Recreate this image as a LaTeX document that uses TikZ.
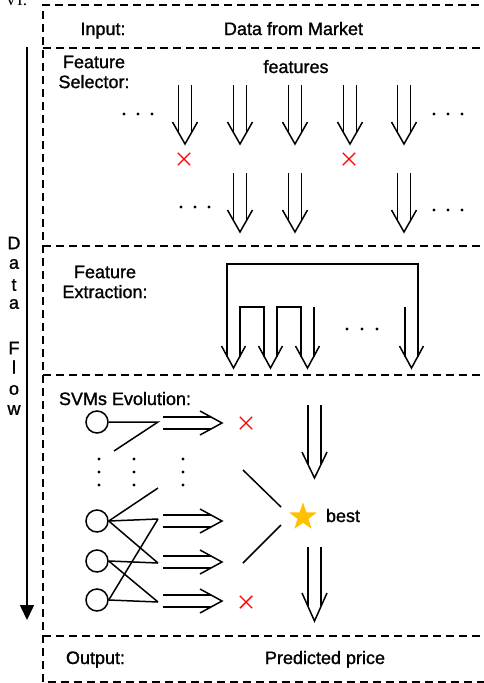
\documentclass[tikz,border=0pt]{standalone}
\usepackage{fontspec}
\setmainfont{Liberation Sans}[FakeBold=1.2]
\newfontfamily\vifont{Liberation Serif}
\usetikzlibrary{arrows.meta,shapes.geometric,shapes.misc}
\definecolor{stargold}{HTML}{FFC000}
\tikzset{
  lbl/.style={font=\fontsize{18}{20}\selectfont, inner sep=0pt, align=center},
  sepline/.style={line width=1.6pt, dash pattern=on 8pt off 5pt},
  stroke/.style={line width=1.5pt},
  redx/.style={cross out, draw=red, line width=1.4pt, minimum size=11pt, inner sep=0pt},
  neuron/.style={circle, draw, line width=1.5pt, minimum size=22pt, inner sep=0pt},
}
% vertical double arrow: x, top, tip, head length
\newcommand\VDbl[4]{%
  \draw[stroke] ({#1-6.5},#2) -- ({#1-6.5},{#3-#4*6.5/12.5});
  \draw[stroke] ({#1+6.5},#2) -- ({#1+6.5},{#3-#4*6.5/12.5});
  \draw[stroke] ({#1-12.5},{#3-#4}) -- (#1,#3) -- ({#1+12.5},{#3-#4});}
% horizontal double arrow: y, left, tip
\newcommand\HDbl[3]{%
  \draw[stroke] (#2,{#1-6}) -- ({#3-11},{#1-6});
  \draw[stroke] (#2,{#1+6}) -- ({#3-11},{#1+6});
  \draw[stroke] ({#3-22},{#1-12}) -- (#3,#1) -- ({#3-22},{#1+12});}
\newcommand\HDots[3]{% xcenter, y, spacing
  \foreach \k in {-1,0,1} \fill ({#1+\k*#3},#2) circle (1.7);}
\begin{document}
\begin{tikzpicture}[x=1pt,y=-1pt]
\useasboundingbox (0,0) rectangle (484,683);
% clipped heading
\node[font=\vifont\fontsize{17}{17}\selectfont, anchor=base, inner sep=0pt] (vi) at (16,5) {VI.};
% dashed frame and separators
\draw[sepline] (492,5) -- (43,5) -- (43,682) -- (492,682);
\foreach \yy in {48,246,375,636} \draw[sepline] (43,\yy) -- (492,\yy);
% data flow
\draw[line width=1.6pt, -{Triangle[length=15pt,width=14pt]}] (27,47) -- (27,620);
\foreach \ch/\yy [count=\i] in {D/243,a/264,t/285,a/304,F/348,l/367,o/390,w/410}
  \node[lbl] (df\i) at (14,\yy) {\ch};
% texts
\node[lbl, anchor=base] (input) at (103,35) {Input:};
\node[lbl, anchor=base] (market) at (293.5,35) {Data from Market};
\node[lbl] (fsel) at (94,72) {Feature\\Selector:};
\node[lbl, anchor=base] (feat) at (296,73) {features};
\node[lbl] (fext) at (105,282) {Feature\\Extraction:};
\node[lbl, anchor=base] (svm) at (125,405) {SVMs Evolution:};
\node[lbl, anchor=base] (best) at (343,522) {best};
\node[lbl, anchor=base] (output) at (95.5,664) {Output:};
\node[lbl, anchor=base] (pred) at (325,664) {Predicted price};
% feature selector
\foreach \xx in {185,240,295,350,404} \VDbl{\xx}{85}{144}{22};
\foreach \xx in {240,295,404} \VDbl{\xx}{173}{232}{22};
\HDots{138}{114}{14}
\HDots{448}{114}{14}
\HDots{195}{207}{14}
\HDots{448}{210}{14}
\node[redx] (x1) at (184,159) {};
\node[redx] (x2) at (349,159) {};
% feature extraction
\draw[stroke] (227,{368-11.4}) -- (227,264) -- (418,264) -- (418,{368-11.4});
\draw[stroke] (240,{368-11.4}) -- (240,307) -- (264,307) -- (264,{368-11.4});
\draw[stroke] (277,{368-11.4}) -- (277,307) -- (301,307) -- (301,{368-11.4});
\draw[stroke] (314,307) -- (314,{368-11.4});
\draw[stroke] (405,307) -- (405,{368-11.4});
\foreach \xx in {233.5,270.5,307.5,411.5}
  \draw[stroke] ({\xx-12},346) -- (\xx,368) -- ({\xx+12},346);
\HDots{362}{329}{15}
% SVMs evolution
\node[neuron] (c1) at (97,422) {};
\node[neuron] (c2) at (97,521) {};
\node[neuron] (c3) at (97,561) {};
\node[neuron] (c4) at (97,600) {};
\coordinate (p1) at (158,422);
\coordinate (p2) at (158,519);
\coordinate (p3) at (158,563);
\coordinate (p4) at (158,602);
\coordinate (q1) at (114,451);
\coordinate (q2) at (158,488);
\draw[stroke] (c1.east) -- (p1) -- (q1);
\draw[stroke] (c2.east) -- (q2);
\draw[stroke] (c2.east) -- (p2);
\draw[stroke] (c2.east) -- (p3);
\draw[stroke] (c3.east) -- (p3);
\draw[stroke] (c3.east) -- (p4);
\draw[stroke] (c4.east) -- (p4);
\draw[stroke] (c4.east) -- (p2);
\foreach \xx in {99,134,183} \foreach \yy in {459,472,485} \fill (\xx,\yy) circle (1.7);
\foreach \yy in {423,521,562,601} \HDbl{\yy}{163}{222};
\node[redx] (x3) at (246,423) {};
\node[redx] (x4) at (246,602) {};
\node[star, star points=5, star point ratio=2.5, fill=stargold, draw=none, minimum size=29pt, inner sep=0pt] (star) at (303,517) {};
\coordinate (u1) at (243,470);
\coordinate (u2) at (281,507);
\coordinate (v1) at (243,563);
\coordinate (v2) at (281,525);
\draw[stroke] (u1) -- (u2);
\draw[stroke] (v1) -- (v2);
\VDbl{314.5}{405}{478}{26}
\VDbl{314.5}{547}{621}{28}
\end{tikzpicture}
\end{document}
